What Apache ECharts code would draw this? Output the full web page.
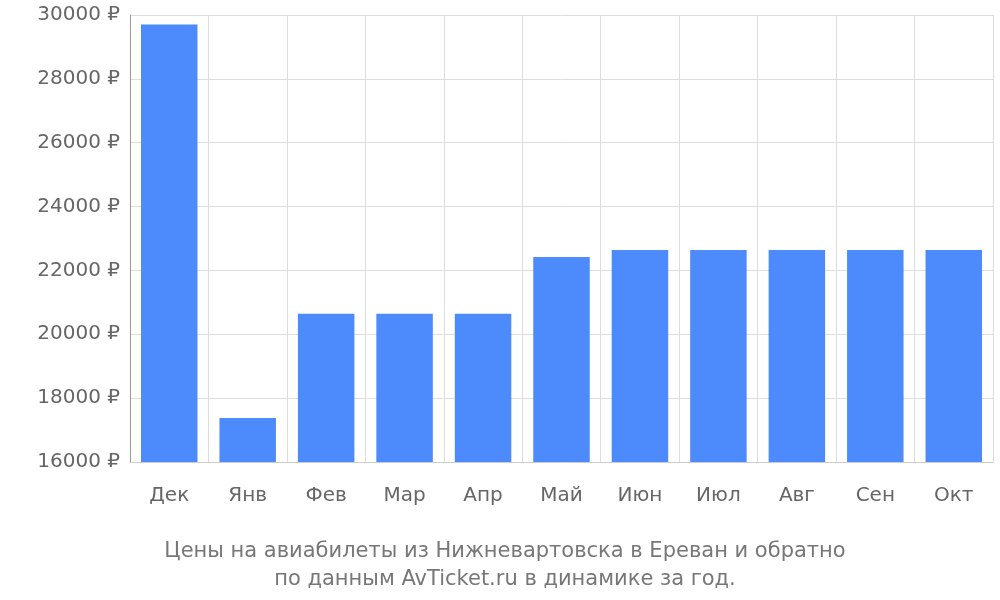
<!DOCTYPE html>
<html>
<head>
<meta charset="utf-8">
<script src="https://cdn.jsdelivr.net/npm/echarts@6/dist/echarts.min.js"></script>
<style>html,body{margin:0;padding:0;background:#fff}#chart{width:1000px;height:600px}</style>
</head>
<body>
<div id="chart"></div>
<script>
const months = ['Дек', 'Янв', 'Фев', 'Мар', 'Апр', 'Май', 'Июн', 'Июл', 'Авг', 'Сен', 'Окт'];
const prices = [29700, 17380, 20640, 20640, 20640, 22420, 22640, 22640, 22640, 22640, 22640];
const titleLines = ['Цены на авиабилеты из Нижневартовска в Ереван и обратно', 'по данным AvTicket.ru в динамике за год.'];

const chart = echarts.init(document.getElementById('chart'));
chart.setOption({
    animation: false,
    textStyle: { fontFamily: 'DejaVu Sans' },
    title: {
        text: titleLines.join('\n'),
        left: 500, textAlign: 'center', top: 533,
        textStyle: { fontSize: 21, fontWeight: 'normal', color: '#777', lineHeight: 28, fontFamily: 'DejaVu Sans' }
    },
    grid: { left: 130, right: 7, top: 15, bottom: 138 },
    xAxis: {
        type: 'category', data: months,
        axisLine: { lineStyle: { color: '#ccc' } },
        axisTick: { length: 18, lineStyle: { color: '#ccc' } },
        splitLine: { show: true, lineStyle: { color: '#ddd' } },
        axisLabel: { fontSize: 20, color: '#666', margin: 24 }
    },
    yAxis: {
        type: 'value', min: 16000, max: 30000, interval: 2000,
        axisLine: { show: true, lineStyle: { color: '#999' } },
        axisTick: { show: false },
        splitLine: { lineStyle: { color: '#ddd' } },
        axisLabel: { fontSize: 20, color: '#666', formatter: v => v + ' ₽', margin: 10 }
    },
    series: [{
        type: 'bar', data: prices, barWidth: '72%',
        itemStyle: { color: '#4d8afc' }
    }]
});
</script>
</body>
</html>
